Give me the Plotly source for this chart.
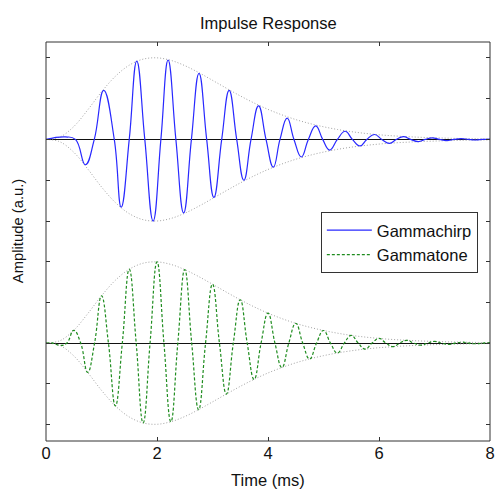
import plotly.graph_objects as go

# ---- data (time in ms, amplitude normalised) ----
# Gammachirp: extrema and zero crossings
GC_T = [0, 0.35, 0.53, 0.71, 0.87, 1.04, 1.23, 1.355, 1.50, 1.635, 1.78, 1.93, 2.07, 2.20,
        2.34, 2.48, 2.62, 2.757, 2.895, 3.025, 3.166, 3.30, 3.436, 3.565, 3.694, 3.83,
        3.964, 4.096, 4.216, 4.345, 4.468, 4.60, 4.727, 4.86, 4.985, 5.11, 5.25, 5.39,
        5.52, 5.66, 5.78, 5.92, 6.05, 6.19, 6.31, 6.44, 6.57, 6.71, 6.83, 6.96, 7.09,
        7.22, 7.35, 7.48, 7.61, 7.74, 7.87, 8.0]
GC_V = [0, 0.03, 0, -0.31, 0, 0.60, 0, -0.83, 0, 0.96, 0, -1.0, 0, 0.97,
        0, -0.90, 0, 0.81, 0, -0.71, 0, 0.60, 0, -0.50, 0, 0.41,
        0, -0.34, 0, 0.26, 0, -0.215, 0, 0.165, 0, -0.13, 0, 0.10,
        0, -0.08, 0, 0.06, 0, -0.048, 0, 0.035, 0, -0.026, 0, 0.019, 0,
        -0.014, 0, 0.010, 0, -0.007, 0, 0.004]

# Gammatone: extrema and zero crossings
GT_T = [0, 0.125, 0.25, 0.375, 0.5, 0.625, 0.75, 0.875, 1.0, 1.125, 1.25, 1.375, 1.5,
        1.625, 1.75, 1.875, 2.0, 2.125, 2.25, 2.375, 2.5, 2.625, 2.75, 2.875, 3.0,
        3.125, 3.25, 3.375, 3.5, 3.625, 3.75, 3.875, 4.0, 4.125, 4.25, 4.375, 4.5,
        4.625, 4.75, 4.875, 5.0, 5.125, 5.25, 5.375, 5.5, 5.625, 5.75, 5.875, 6.0,
        6.125, 6.25, 6.375, 6.5, 6.625, 6.75, 6.875, 7.0, 7.125, 7.25, 7.375, 7.5,
        7.625, 7.75, 7.875, 8.0]
GT_V = [0, 0, -0.029, 0, 0.157, 0, -0.360, 0, 0.582, 0, -0.773, 0, 0.909,
        0, -0.983, 0, 0.999, 0, -0.968, 0, 0.904, 0, -0.819, 0, 0.724,
        0, -0.627, 0, 0.533, 0, -0.446, 0, 0.368, 0, -0.301, 0, 0.243,
        0, -0.195, 0, 0.155, 0, -0.122, 0, 0.095, 0, -0.074, 0, 0.057,
        0, -0.044, 0, 0.034, 0, -0.026, 0, 0.020, 0, -0.015, 0, 0.011,
        0, -0.008, 0, 0.006]

# Envelope (dotted grey)
ENV_T = [0, 0.25, 0.5, 0.75, 1.0, 1.25, 1.5, 1.75, 2.0, 2.25, 2.5, 2.75, 3.0, 3.25,
         3.5, 3.75, 4.0, 4.25, 4.5, 4.75, 5.0, 5.25, 5.5, 5.75, 6.0, 6.25, 6.5, 6.75,
         7.0, 7.25, 7.5, 7.75, 8.0]
ENV_V = [0, 0.029, 0.157, 0.360, 0.582, 0.773, 0.909, 0.983, 0.999, 0.968, 0.904,
         0.819, 0.724, 0.627, 0.533, 0.446, 0.368, 0.301, 0.243, 0.195, 0.155, 0.122,
         0.095, 0.074, 0.057, 0.044, 0.034, 0.026, 0.020, 0.015, 0.011, 0.008, 0.006]

X_TICKS = [0, 2, 4, 6, 8]
X_TICK_TEXT = ["0", "2", "4", "6", "8"]
Y_TICKS = [-1, -0.5, 0, 0.5, 1]

FONT = "Liberation Sans, Arial, Helvetica, sans-serif"
ENV_STYLE = dict(color="rgb(160,160,160)", width=1, dash="1px,2px")

fig = go.Figure()

for xa, ya in (("x2", "y"), ("x", "y2")):
    fig.add_trace(go.Scatter(x=ENV_T, y=ENV_V, mode="lines", line=ENV_STYLE,
                             line_shape="spline", showlegend=False, hoverinfo="skip",
                             xaxis=xa, yaxis=ya))
    fig.add_trace(go.Scatter(x=ENV_T, y=[-v for v in ENV_V], mode="lines", line=ENV_STYLE,
                             line_shape="spline", showlegend=False, hoverinfo="skip",
                             xaxis=xa, yaxis=ya))

fig.add_trace(go.Scatter(x=GC_T, y=GC_V, mode="lines", name="Gammachirp",
                         line=dict(color="rgb(40,40,255)", width=1.2),
                         line_shape="spline", line_smoothing=1.3,
                         xaxis="x2", yaxis="y"))
fig.add_trace(go.Scatter(x=GT_T, y=GT_V, mode="lines", name="Gammatone",
                         line=dict(color="rgb(30,140,30)", width=1.2, dash="3px,2px"),
                         line_shape="spline", line_smoothing=1.3,
                         xaxis="x", yaxis="y2"))

common_y = dict(tickvals=Y_TICKS, showticklabels=False, ticks="inside", ticklen=4,
                tickcolor="#333", mirror="ticks", showgrid=False, showline=False,
                zeroline=True, zerolinecolor="#111", zerolinewidth=1, automargin=False)

fig.update_layout(
    width=495, height=489,
    margin=dict(l=46, r=5, t=42, b=48, autoexpand=False),
    paper_bgcolor="white", plot_bgcolor="white",
    font=dict(family=FONT, size=16.5, color="#111"),
    xaxis=dict(domain=[0, 1], anchor="y2", range=[0, 8], tickvals=X_TICKS,
               ticktext=X_TICK_TEXT, ticks="inside", ticklen=4, tickcolor="#333",
               showgrid=False, zeroline=False, showline=False, automargin=False,
               tickfont=dict(size=16.5, color="#111")),
    xaxis2=dict(domain=[0, 1], anchor="y", side="top", matches="x", range=[0, 8],
                tickvals=X_TICKS, showticklabels=False, ticks="inside", ticklen=4,
                tickcolor="#333", showgrid=False, zeroline=False, showline=False,
                automargin=False),
    yaxis=dict(domain=[0.5, 1], anchor="x2", range=[-1.25, 1.193], **common_y),
    yaxis2=dict(domain=[0, 0.5], anchor="x", range=[-1.205, 1.25], **common_y),
    legend=dict(x=0.619, y=0.574, xanchor="left", yanchor="top",
                bgcolor="white", bordercolor="#333", borderwidth=1,
                font=dict(size=16.5, color="#111"), tracegroupgap=0, itemwidth=45),
    shapes=[dict(type="rect", xref="paper", yref="paper", x0=0, x1=1, y0=0, y1=1,
                 line=dict(color="#333", width=1), layer="above")],
    annotations=[
        dict(text="Impulse Response", xref="paper", yref="paper", x=0.5, y=1.048,
             xanchor="center", yanchor="middle", showarrow=False, font=dict(size=16.5)),
        dict(text="Time (ms)", xref="paper", yref="paper", x=0.5, y=-0.097,
             xanchor="center", yanchor="middle", showarrow=False, font=dict(size=16.5)),
        dict(text="Amplitude (a.u.)", xref="paper", yref="paper", x=-0.063, y=0.526,
             xanchor="center", yanchor="middle", showarrow=False, textangle=-90,
             font=dict(size=14.8)),
    ],
)

# remove the browser's default page margin so the 495x489 figure fills the window
fig.write_html(
    "out.html",
    config={"displayModeBar": False},
    post_script=("document.documentElement.style.overflow='hidden';"
                 "document.body.style.overflow='hidden';"
                 "document.body.style.margin='0';"),
)
